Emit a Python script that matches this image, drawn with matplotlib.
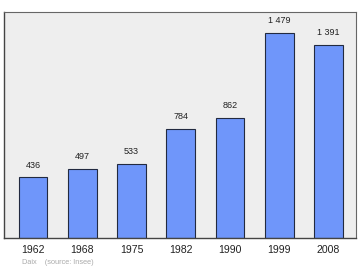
import matplotlib
matplotlib.use("Agg")
import matplotlib.pyplot as plt
import numpy as np

years = ["1962", "1968", "1975", "1982", "1990", "1999", "2008"]
population = [436, 497, 533, 784, 862, 1479, 1391]
value_labels = ["436", "497", "533", "784", "862", "1 479", "1 391"]
source_text = "Daix    (source: Insee)"


def main():
    plt.rcParams['font.family'] = ['Liberation Sans', 'DejaVu Sans']
    fig = plt.figure(figsize=(3.6, 2.7), dpi=100)
    ax = fig.add_axes([4 / 360, 1 - 237.7 / 270, 352 / 360, 225.7 / 270])
    ax.set_facecolor('#eeeeee')

    x = np.arange(len(years))
    ax.bar(x, population, width=0.58, color='#6f96fa', edgecolor='#222a40',
           linewidth=0.8, zorder=2)
    for xi, v, lab in zip(x, population, value_labels):
        ax.annotate(lab, (xi, v), xytext=(0, 5.5), textcoords='offset points',
                    ha='center', va='bottom', fontsize=6.5, color='#222222')

    ax.set_xlim(-0.589, 6.558)
    ax.set_ylim(0, max(population) * 1.1)
    ax.set_yticks([])
    ax.set_xticks(x)
    ax.set_xticklabels(years, fontsize=7.6, color='#222222')
    ax.tick_params(axis='x', length=0, pad=5)
    for side in ['left', 'bottom']:
        ax.spines[side].set_color('#444444')
        ax.spines[side].set_linewidth(1.0)
    for side in ['top', 'right']:
        ax.spines[side].set_color('#666666')
        ax.spines[side].set_linewidth(0.8)

    fig.text(22 / 360, 1 - 262 / 270, source_text, fontsize=5.3, color='#aaaaaa',
             va='center', ha='left')
    fig.savefig('out.png', dpi=100)


if __name__ == "__main__":
    main()
